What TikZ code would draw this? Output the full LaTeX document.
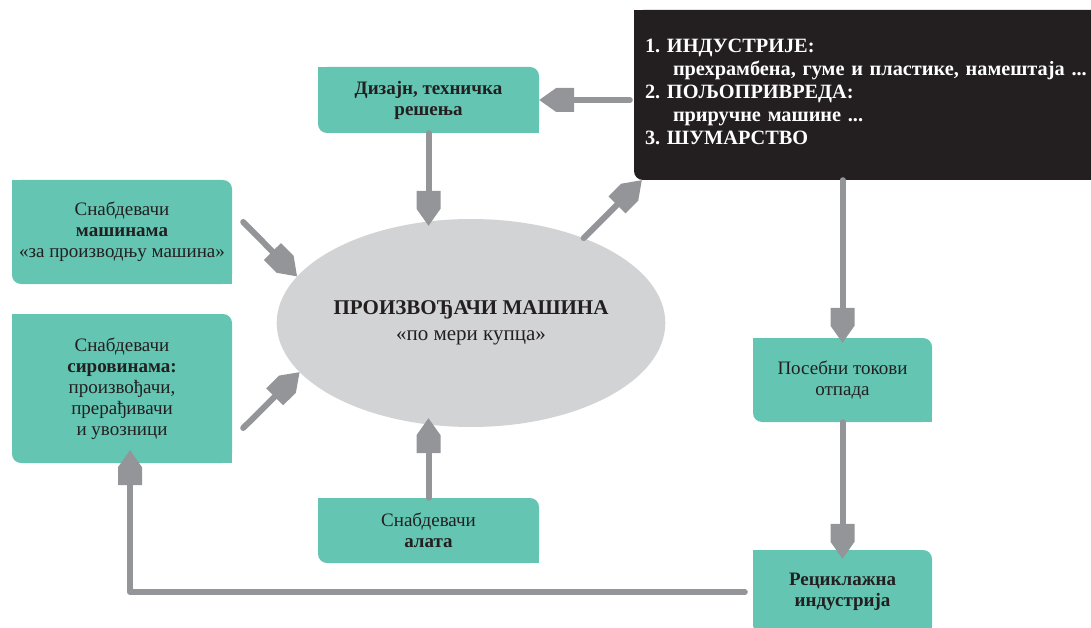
\documentclass[tikz,border=0pt]{standalone}
\usepackage{fontspec}
\setmainfont{Liberation Serif}
\usetikzlibrary{shapes.geometric}
\definecolor{tealb}{HTML}{63C5B2}
\definecolor{arrg}{HTML}{939598}
\definecolor{ellg}{HTML}{D1D3D4}
\definecolor{blk}{HTML}{231F20}
\pgfdeclarearrow{
  name = Penta,
  setup code = {
    \pgfarrowssettipend{0pt}
    \pgfarrowssetlineend{-20pt}
    \pgfarrowssetbackend{-35pt}
    \pgfarrowshullpoint{0pt}{0pt}
    \pgfarrowshullpoint{-35pt}{12pt}
    \pgfarrowshullpoint{-35pt}{-12pt}
  },
  drawing code = {
    \pgfpathmoveto{\pgfpoint{0pt}{0pt}}
    \pgfpathlineto{\pgfpoint{-17pt}{12pt}}
    \pgfpathlineto{\pgfpoint{-35pt}{12pt}}
    \pgfpathlineto{\pgfpoint{-35pt}{-12pt}}
    \pgfpathlineto{\pgfpoint{-17pt}{-12pt}}
    \pgfpathclose
    \pgfusepathqfill
  }
}
\tikzset{
  tbox/.style={rectangle, rounded corners=9pt, fill=tealb, text=blk, align=center,
    inner sep=0pt, font=\fontsize{19}{21}\selectfont},
  bkbox/.style={rectangle, rounded corners=9pt, fill=blk, text=white, align=left,
    inner xsep=11pt, inner ysep=0pt, font=\fontsize{20.3}{23}\selectfont\bfseries},
  ellnode/.style={ellipse, fill=ellg, text=blk, align=center, inner sep=0pt,
    font=\fontsize{21}{26}\selectfont},
  conn/.style={color=arrg, line width=6pt, line cap=round, line join=round, -{Penta}},
}
\newcommand\sqcorners[2]{%
  \fill[#2] (#1.north west) rectangle ++(12pt,-12pt);
  \fill[#2] (#1.south east) rectangle ++(-12pt,12pt);}
\frenchspacing
\begin{document}
\begin{tikzpicture}[x=1pt,y=-1pt]
\useasboundingbox (0,0) rectangle (1091,628);
\clip (0,0) rectangle (1091,628);

% boxes
\node[tbox, minimum width=221pt, minimum height=66pt] (dz) at (428.5,100)
  {\textbf{Дизајн, техничка}\\\textbf{решења}};
\sqcorners{dz}{tealb}
\node[bkbox, minimum height=170pt, text width=446pt] (bk) at (868,95)
  {\frenchspacing 1. ИНДУСТРИЈЕ:\\\hspace*{28pt}прехрамбена, гуме и пластике, намештаја ...\\2. ПОЉОПРИВРЕДА:\\\hspace*{28pt}приручне машине ...\\3. ШУМАРСТВО\par\vspace*{6pt}};
\sqcorners{bk}{blk}
\node[tbox, minimum width=220pt, minimum height=104pt] (ma) at (122,232)
  {Снабдевачи\\\textbf{машинама}\\«за производњу машина»};
\sqcorners{ma}{tealb}
\node[tbox, minimum width=220pt, minimum height=149pt] (si) at (122,388.5)
  {Снабдевачи\\\textbf{сировинама:}\\произвођачи,\\прерађивачи\\и увозници};
\sqcorners{si}{tealb}
\node[ellnode, minimum width=378pt, minimum height=208pt] (el) at (471,323)
  {\textbf{ПРОИЗВОЂАЧИ МАШИНА}\\«по мери купца»};
\node[tbox, minimum width=221pt, minimum height=65pt] (al) at (428.5,530.5)
  {Снабдевачи\\\textbf{алата}};
\sqcorners{al}{tealb}
\node[tbox, minimum width=179pt, minimum height=84pt] (ps) at (842.5,380)
  {Посебни токови\\отпада};
\sqcorners{ps}{tealb}
\node[tbox, minimum width=179pt, minimum height=84pt] (rc) at (842.5,592)
  {\textbf{Рециклажна}\\\textbf{индустрија}};
\sqcorners{rc}{tealb}

% connectors
\draw[conn] ([xshift=-4pt]bk.west |- dz.east) -- (dz.east);
\draw[conn, shorten >=-7pt] (dz.south) -- (dz.south |- el.north);
\draw[conn] ([shift={(11pt,10pt)}]ma.east) -- (el.165);
\draw[conn] ([shift={(11pt,-39.5pt)}]si.east) -- (el.196);
\draw[conn] (el.37) -- ([xshift=8pt]bk.south west);
\draw[conn, shorten >=-9pt] (al.north) -- (al.north |- el.south);
\draw[conn, shorten >=-5pt] (bk.south west -| ps.north) -- (ps.north);
\draw[conn, shorten >=-9pt] (ps.south) -- (rc.north);
\draw[conn, shorten >=-13pt] ([shift={(-8pt,0pt)}]rc.west) -| ([xshift=8pt]si.south);
\end{tikzpicture}
\end{document}
